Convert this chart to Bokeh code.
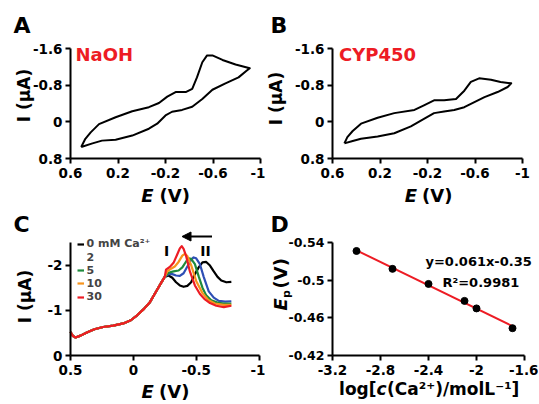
import math
import numpy as np
from bokeh.plotting import figure
from bokeh.layouts import row, column
from bokeh.models import (Range1d, FixedTicker, CustomJSTickFormatter, Label, Arrow,
                          NormalHead, Legend, LegendItem)
from bokeh.embed import file_html
from bokeh.resources import INLINE

FONT = "DejaVu Sans"
RED = "#ED1C24"

# ---------------- Panel A: CV in NaOH ----------------
a_potential = [0.51, 0.475, 0.43, 0.36, 0.22, 0.08, -0.06, -0.145, -0.215, -0.285, -0.37,
               -0.425, -0.465, -0.51, -0.55, -0.595, -0.68, -0.79, -0.91, -0.885, -0.815,
               -0.705, -0.595, -0.51, -0.425, -0.34, -0.255, -0.2, -0.13, -0.06, 0.08, 0.22,
               0.335, 0.415, 0.51]
a_current = [0.55, 0.37, 0.23, 0.05, -0.10, -0.23, -0.32, -0.41, -0.55, -0.65, -0.65,
             -0.72, -0.97, -1.30, -1.45, -1.45, -1.35, -1.25, -1.17, -1.12, -0.97,
             -0.84, -0.70, -0.50, -0.33, -0.26, -0.22, -0.14, 0.04, 0.15, 0.30, 0.39,
             0.41, 0.47, 0.55]

# ---------------- Panel B: CV with CYP450 ----------------
b_potential = [0.50, 0.475, 0.43, 0.36, 0.22, 0.08, -0.09, -0.17, -0.255, -0.34, -0.44,
               -0.51, -0.565, -0.635, -0.735, -0.815, -0.905, -0.875, -0.79, -0.68, -0.595,
               -0.51, -0.425, -0.34, -0.255, -0.17, -0.06, 0.08, 0.22, 0.36, 0.43, 0.50]
b_current = [0.47, 0.335, 0.20, 0.04, -0.09, -0.19, -0.26, -0.36, -0.47, -0.47, -0.50,
             -0.68, -0.87, -0.95, -0.92, -0.87, -0.84, -0.76, -0.65, -0.54, -0.43,
             -0.32, -0.26, -0.225, -0.19, -0.065, 0.10, 0.25, 0.32, 0.37, 0.42, 0.47]

# ---------------- Panel C: DPV with Ca2+ ----------------
c_rise_potential = [0.50, 0.48, 0.46, 0.42, 0.37, 0.31, 0.24, 0.16, 0.08, 0.02, -0.03,
                    -0.08, -0.13, -0.18, -0.22, -0.25]
c_rise_current = [-0.52, -0.43, -0.40, -0.44, -0.51, -0.58, -0.63, -0.66, -0.71, -0.78,
                  -0.89, -1.02, -1.17, -1.41, -1.60, -1.74]

c0_potential = [-0.28, -0.31, -0.34, -0.37, -0.40, -0.43, -0.46, -0.49, -0.52, -0.55,
                -0.58, -0.61, -0.64, -0.67, -0.70, -0.74, -0.78]
c0_current = [-1.77, -1.72, -1.62, -1.55, -1.52, -1.54, -1.62, -1.80, -1.95, -2.06,
              -2.07, -1.99, -1.86, -1.74, -1.66, -1.62, -1.63]
c2_potential = [-0.28, -0.31, -0.34, -0.37, -0.40, -0.43, -0.46, -0.48, -0.50, -0.53,
                -0.56, -0.60, -0.64, -0.68, -0.73, -0.78]
c2_current = [-1.80, -1.80, -1.77, -1.76, -1.82, -1.97, -2.12, -2.17, -2.15, -2.02,
              -1.74, -1.42, -1.28, -1.21, -1.19, -1.20]
c5_potential = [-0.28, -0.32, -0.36, -0.39, -0.42, -0.44, -0.46, -0.49, -0.52, -0.55,
                -0.58, -0.62, -0.67, -0.72, -0.78]
c5_current = [-1.83, -1.86, -1.88, -1.95, -2.08, -2.15, -2.14, -2.02, -1.75, -1.50,
              -1.33, -1.22, -1.17, -1.15, -1.15]
c10_potential = [-0.27, -0.30, -0.33, -0.36, -0.39, -0.41, -0.43, -0.46, -0.50, -0.55,
                 -0.60, -0.65, -0.72, -0.78]
c10_current = [-1.86, -1.92, -1.97, -2.07, -2.21, -2.25, -2.20, -2.00, -1.65, -1.38,
               -1.22, -1.15, -1.12, -1.12]
c30_potential = [-0.26, -0.29, -0.32, -0.35, -0.37, -0.385, -0.40, -0.42, -0.45, -0.49,
                 -0.53, -0.57, -0.61, -0.66, -0.72, -0.78]
c30_current = [-1.90, -1.96, -2.05, -2.24, -2.37, -2.42, -2.36, -2.20, -1.86, -1.55,
               -1.36, -1.24, -1.16, -1.10, -1.07, -1.10]

c_labels = ["0 mM Ca\u00b2\u207a", "2", "5", "10", "30"]
c_colors = ["black", "#2E4FB5", "#1E8A3C", "#F7941D", RED]
c_legend_colors = ["black", "#29A9E0", "#1E8A3C", "#F7941D", RED]

# ---------------- Panel D: peak potential vs log c ----------------
d_logc = [-3.0, -2.7, -2.4, -2.1, -2.0, -1.7]
d_ep = [-0.531, -0.512, -0.496, -0.478, -0.470, -0.449]
d_equation = "y=0.061x-0.35"
d_r2 = "R\u00b2=0.9981"

# ---------------- axis limits and ticks ----------------
cv_xlim = (0.6, -1)
cv_ylim = (0.8, -1.6)          # (bottom, top)
c_xlim = (0.5, -1)
c_ylim = (0, -2.5)
d_xlim = (-3.2, -1.6)
d_ylim = (-0.42, -0.54)
cv_xticks = [0.6, 0.2, -0.2, -0.6, -1]
cv_yticks = [-1.6, -0.8, 0, 0.8]
c_xticks = [0.5, 0, -0.5, -1]
c_yticks = [0, -1, -2]
d_xticks = [-3.2, -2.8, -2.4, -2, -1.6]
d_yticks = [-0.54, -0.5, -0.46, -0.42]

# layout: vertical centre (page px) of each legend row in panel C
LEGEND_ROWS = [243.5, 257, 270, 283, 296.5]


def make_panel(geom, box, xlim, ylim, xt, yt, ytick_size="13.5px"):
    """geom = (left, top, width, height) of the canvas on the page;
    box = (left, right, top, bottom) pixel position of the axes on the page."""
    fl, ft, w, h = geom
    L, R, T, B = box
    kx = (xlim[1] - xlim[0]) / (R - L)
    ky = (ylim[1] - ylim[0]) / (B - T)
    xr = Range1d(xlim[0] - (L - fl) * kx, xlim[1] + (fl + w - R) * kx)
    yr = Range1d(ylim[0] - (ft + h - B) * ky, ylim[1] + (T - ft) * ky)
    p = figure(width=w, height=h, x_range=xr, y_range=yr,
               output_backend="svg", toolbar_location=None,
               min_border_left=0, min_border_right=0,
               min_border_top=0, min_border_bottom=0)
    p.outline_line_color = None
    p.grid.visible = False
    p.background_fill_color = "white"
    p.border_fill_color = "white"
    fmt = CustomJSTickFormatter(code="return String(tick);")
    xa, ya = p.xaxis[0], p.yaxis[0]
    xa.fixed_location = ylim[0]
    ya.fixed_location = xlim[0]
    xa.bounds = tuple(sorted(xlim))
    ya.bounds = tuple(sorted(ylim))
    for ax, ticks, standoff, size in ((xa, xt, 4, "13.5px"), (ya, yt, 3, ytick_size)):
        ax.ticker = FixedTicker(ticks=ticks, minor_ticks=[])
        ax.formatter = fmt
        ax.axis_line_width = 2
        ax.axis_line_color = "black"
        ax.major_tick_line_width = 2
        ax.major_tick_line_color = "black"
        ax.major_tick_out = 5
        ax.major_tick_in = 0
        ax.minor_tick_line_color = None
        ax.major_label_text_font = FONT
        ax.major_label_text_font_style = "bold"
        ax.major_label_text_font_size = size
        ax.major_label_text_color = "black"
        ax.major_label_standoff = standoff
    p._geom = geom
    return p


def label(p, x, y, text, size, style="bold", color="black", align="left",
          baseline="middle", angle=0.0):
    fl, ft, w, h = p._geom
    p.add_layout(Label(x=x - fl, y=ft + h - y, x_units="screen", y_units="screen",
                       text=text, text_font=FONT, text_font_style=style,
                       text_font_size=f"{size}px", text_color=color, text_align=align,
                       text_baseline=baseline, angle=angle))


ROT = math.pi / 2
GA = (0, 0, 265, 207)
GB = (265, 0, 273, 207)
GC = (0, 207, 265, 197)
GD = (265, 207, 273, 197)

# ---- A ----
pA = make_panel(GA, (70, 260, 48, 158), cv_xlim, cv_ylim, cv_xticks, cv_yticks)
pA.line(a_potential, a_current, line_width=2, color="black", line_join="round")
label(pA, 13, 25, "A", 22)
label(pA, 75, 54, "NaOH", 18, color=RED)
label(pA, 23.5, 95, "I (\u00b5A)", 17, align="center", angle=ROT)
label(pA, 153, 194.5, "E", 18, style="bold italic", align="right")
label(pA, 159, 194.5, "(V)", 18)

# ---- B ----
pB = make_panel(GB, (332, 522, 48, 158), cv_xlim, cv_ylim, cv_xticks, cv_yticks)
pB.line(b_potential, b_current, line_width=2, color="black", line_join="round")
label(pB, 270, 25, "B", 22)
label(pB, 338.5, 54, "CYP450", 18, color=RED)
label(pB, 275.5, 98, "I (\u00b5A)", 17, align="center", angle=ROT)
label(pB, 416.5, 194.5, "E", 18, style="bold italic", align="right")
label(pB, 421.5, 194.5, "(V)", 18)

# ---- C ----
pC = make_panel(GC, (70, 258.5, 242, 355), c_xlim, c_ylim, c_xticks, c_yticks)
curves = [(c0_potential, c0_current), (c2_potential, c2_current),
          (c5_potential, c5_current), (c10_potential, c10_current),
          (c30_potential, c30_current)]
renderers = []
for (pe, ci), col in zip(curves, c_colors):
    r = pC.line(c_rise_potential + pe, c_rise_current + ci, line_width=2.2, color=col,
                line_join="round")
    renderers.append(r)
legend_renderers = list(renderers)
legend_renderers[1] = pC.line([], [], line_width=2.2, color=c_legend_colors[1])
for lab, r, cy in zip(c_labels, legend_renderers, LEGEND_ROWS):
    pC.add_layout(Legend(items=[LegendItem(label=lab, renderers=[r])],
                         location=(76.5, 404 - (cy + 6.5)), orientation="vertical",
                         glyph_width=7, glyph_height=10, label_height=10,
                         label_standoff=3, spacing=0, padding=0, margin=0,
                         label_text_font=FONT, label_text_font_style="bold",
                         label_text_font_size="11px", background_fill_alpha=0,
                         border_line_color=None))
pC.add_layout(Arrow(end=NormalHead(size=9, fill_color="black", line_color="black"),
                    x_start=211.5, y_start=404 - 236, x_end=181.5, y_end=404 - 236,
                    start_units="screen", end_units="screen", line_width=2,
                    line_color="black"))
label(pC, 166, 250, "I", 14, align="center")
label(pC, 205, 250, "II", 14, align="center")
label(pC, 13, 223.5, "C", 22)
label(pC, 24, 296, "I (\u00b5A)", 17, align="center", angle=ROT)
label(pC, 153.3, 391, "E", 18, style="bold italic", align="right")
label(pC, 158.5, 391, "(V)", 18)

# ---- D ----
pD = make_panel(GD, (332, 524, 242, 355), d_xlim, d_ylim, d_xticks, d_yticks,
                ytick_size="12.5px")
slope, intercept = np.polyfit(d_logc, d_ep, 1)
fit_x = [min(d_logc), max(d_logc)]
fit_y = [slope * v + intercept for v in fit_x]
pD.line(fit_x, fit_y, line_width=2, color=RED)
pD.scatter(d_logc, d_ep, size=7, color="black")
label(pD, 270, 223.5, "D", 22)
label(pD, 425, 261, d_equation, 13)
label(pD, 442, 281.5, d_r2, 13)
label(pD, 376, 388.5, "log[", 17, align="right")
label(pD, 376, 388.5, "c", 17, style="bold italic")
label(pD, 386.5, 388.5, "(Ca\u00b2\u207a)/molL\u207b\u00b9]", 17)
label(pD, 279.5, 310, "E", 18, style="bold italic", angle=ROT)
label(pD, 285.5, 297.5, "p", 11, angle=ROT)
label(pD, 279.5, 288, "(V)", 18, angle=ROT)

layout = column(row(pA, pB), row(pC, pD))
open("out.html", "w").write(file_html(layout, INLINE))
